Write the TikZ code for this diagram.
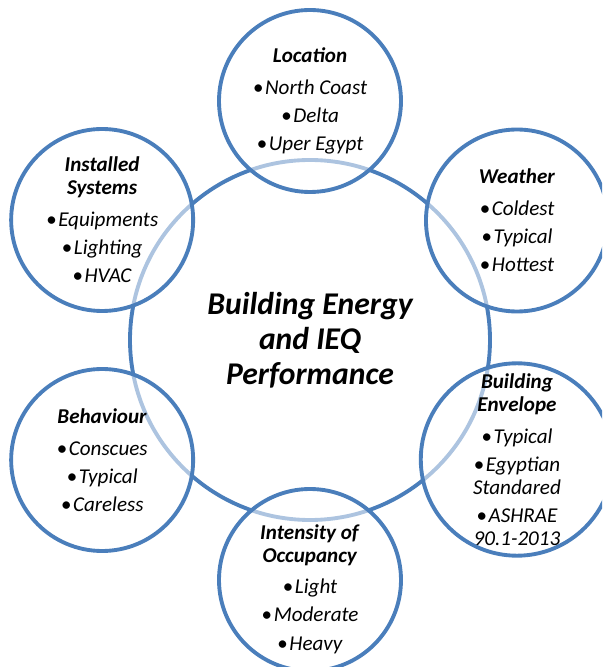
\documentclass[tikz,border=0pt]{standalone}
\usepackage{fontspec}
\setmainfont{Carlito}
\definecolor{ringblue}{HTML}{4A7EBB}
\newcommand{\ringhead}[1]{\textbf{\textit{#1}}}
\newcommand{\ringitem}[1]{\textit{\textbullet\kern1pt#1}}

\begin{document}
\begin{tikzpicture}[
  hub/.style={circle, draw=ringblue, line width=2.2pt, minimum size=7.2cm, align=center,
    font=\fontsize{18}{20}\selectfont\bfseries\itshape},
  ring/.style={circle, draw=ringblue, line width=2.2pt, fill=white, fill opacity=0.55,
    text opacity=1, minimum size=3.64cm, inner sep=0pt, align=center,
    font=\fontsize{12}{13}\selectfont},
  ringtext/.style={align=center, font=\fontsize{12}{13}\selectfont}]
  \clip (-6.2cm,-6.54cm) rectangle (5.84cm,6.8cm);
  % centre
  \node[hub] (perf) at (0cm,0cm) {Building Energy\\and IEQ\\Performance};
  % factors round the centre
  \node[ring] (loc) at (90:4.78cm) {\ringhead{Location}\\[5pt]\ringitem{North Coast}\\[3pt]\ringitem{Delta}\\[3pt]\ringitem{Uper Egypt}};
  \node[ring] (wea) at (30:4.78cm) {\ringhead{Weather}\\[5pt]\ringitem{Coldest}\\[3pt]\ringitem{Typical}\\[3pt]\ringitem{Hottest}};
  \node[ring] (env) at (-30:4.78cm) {\ringhead{Building}\\\ringhead{Envelope}\\[5pt]\ringitem{Typical}\\[3pt]\ringitem{Egyptian}\\\textit{Standared}\\[3pt]\ringitem{ASHRAE}\\\textit{90.1-2013}};
  \node[ring] (occ) at (-90:4.8cm) {};
  \node[ringtext] (occtext) at ([yshift=-0.18cm]occ.center) {\ringhead{Intensity of}\\\ringhead{Occupancy}\\[5pt]\ringitem{Light}\\[3pt]\ringitem{Moderate}\\[3pt]\ringitem{Heavy}};
  \node[ring] (beh) at (-150:4.8cm) {\ringhead{Behaviour}\\[5pt]\ringitem{Conscues}\\[3pt]\ringitem{Typical}\\[3pt]\ringitem{Careless}};
  \node[ring] (sys) at (150:4.8cm) {\ringhead{Installed}\\\ringhead{Systems}\\[5pt]\ringitem{Equipments}\\[3pt]\ringitem{Lighting}\\[3pt]\ringitem{HVAC}};
\end{tikzpicture}
\end{document}
